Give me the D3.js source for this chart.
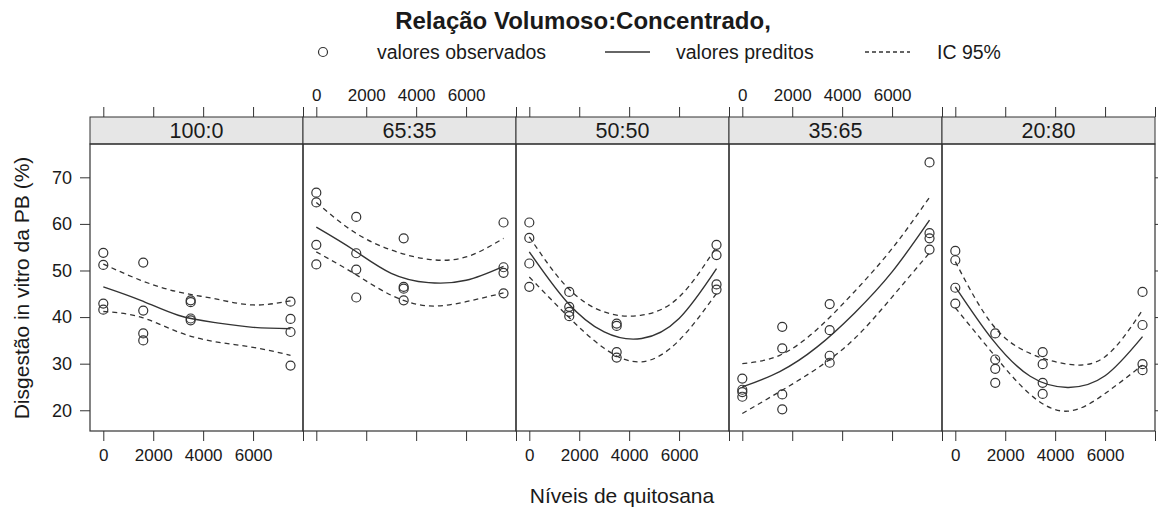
<!DOCTYPE html>
<html><head><meta charset="utf-8">
<script src="https://cdnjs.cloudflare.com/ajax/libs/d3/7.8.5/d3.min.js"></script>
<style>
html,body{margin:0;padding:0;background:#fff;}
svg text{font-family:"Liberation Sans",Arial,sans-serif;fill:#1a1a1a;}
</style></head>
<body><svg id="c" width="1158" height="509"></svg>
<script>
// ---- data ----
const panelNames = ["100:0", "65:35", "50:50", "35:65", "20:80"];
const obsX = [0, 1600, 3500, 7500];
const fitX = [0, 1500, 3000, 4500, 6000, 7500];
const xTicks = [0, 2000, 4000, 6000, 8000];
const xTickLabels = ["0", "2000", "4000", "6000", ""];
const yTicks = [20, 30, 40, 50, 60, 70];

// observed values: one row per level of obsX (4 replicates)
const obs100_0 = [[53.8, 51.2, 42.9, 41.6], [51.7, 41.4, 36.5, 35.0], [43.6, 43.2, 39.7, 39.3], [43.3, 39.6, 36.8, 29.6]];
const obs65_35 = [[66.7, 64.6, 55.5, 51.3], [61.5, 53.7, 50.2, 44.2], [56.9, 46.5, 46.1, 43.6], [60.3, 50.7, 49.5, 45.1]];
const obs50_50 = [[60.3, 57.0, 51.5, 46.5], [45.4, 42.2, 41.1, 40.2], [38.6, 38.1, 32.5, 31.3], [55.5, 53.3, 47.0, 45.9]];
const obs35_65 = [[26.8, 24.4, 23.9, 22.9], [37.9, 33.3, 23.4, 20.2], [42.8, 37.2, 31.7, 30.2], [73.2, 58.0, 56.9, 54.5]];
const obs20_80 = [[54.2, 52.2, 46.3, 42.9], [36.5, 30.9, 28.9, 25.9], [32.5, 29.9, 25.9, 23.5], [45.4, 38.3, 29.9, 28.6]];

// predicted values and 95% CI read at fitX
const fit100_0 = [46.5, 43.6, 40.4, 38.8, 37.8, 37.5];
const up100_0  = [51.4, 47.9, 45.4, 43.9, 42.6, 43.5];
const lo100_0  = [41.2, 40.0, 36.8, 34.7, 33.5, 31.8];

const fit65_35 = [59.3, 54.4, 49.4, 47.4, 47.9, 50.9];
const up65_35  = [64.6, 58.3, 54.4, 52.4, 52.9, 56.9];
const lo65_35  = [54.0, 49.4, 44.7, 42.4, 43.3, 45.2];

const fit50_50 = [54.0, 43.3, 36.8, 35.4, 39.7, 50.4];
const up50_50  = [57.2, 46.5, 41.1, 40.4, 44.3, 55.1];
const lo50_50  = [48.6, 40.4, 33.3, 30.4, 35.0, 45.1];

const fit35_65 = [25.0, 28.3, 33.6, 40.9, 49.7, 60.8];
const up35_65  = [30.0, 31.8, 37.4, 45.5, 54.7, 65.7];
const lo35_65  = [19.3, 24.0, 29.0, 35.4, 44.3, 53.8];

const fit20_80 = [46.5, 35.1, 27.3, 24.9, 27.4, 35.8];
const up20_80  = [51.9, 38.3, 32.2, 29.9, 31.5, 41.5];
const lo20_80  = [42.0, 32.2, 23.4, 19.8, 23.6, 29.7];

const obsList = [obs100_0, obs65_35, obs50_50, obs35_65, obs20_80];
const fitList = [fit100_0, fit65_35, fit50_50, fit35_65, fit20_80];
const upList  = [up100_0, up65_35, up50_50, up35_65, up20_80];
const loList  = [lo100_0, lo65_35, lo50_50, lo35_65, lo20_80];

// ---- layout ----
const svg = d3.select("#c");
const left = 90, right = 1155, stripTop = 117, plotTop = 144, plotBottom = 431;
const pw = (right - left) / panelNames.length;
const ink = "#333";
const y = d3.scaleLinear().domain([15.55, 77.15]).range([plotBottom, plotTop]);

// title
svg.append("text").attr("x", 583).attr("y", 29).attr("text-anchor", "middle")
  .style("font-size", "24px").style("font-weight", "bold").text("Relação Volumoso:Concentrado,");

// legend
const lg = svg.append("g");
lg.append("circle").attr("cx", 323).attr("cy", 52).attr("r", 4.5).attr("fill", "none").attr("stroke", ink).attr("stroke-width", 1.2);
lg.append("text").attr("x", 377).attr("y", 59).style("font-size", "19.5px").text("valores observados");
lg.append("line").attr("x1", 605).attr("x2", 650).attr("y1", 52).attr("y2", 52).attr("stroke", ink).attr("stroke-width", 1.3);
lg.append("text").attr("x", 676).attr("y", 59).style("font-size", "19.5px").text("valores preditos");
lg.append("line").attr("x1", 865).attr("x2", 910).attr("y1", 52).attr("y2", 52).attr("stroke", ink).attr("stroke-width", 1.3).attr("stroke-dasharray", "4,3");
lg.append("text").attr("x", 937).attr("y", 59).style("font-size", "19.5px").text("IC 95%");

const lineGen = (x) => d3.line().x((d, i) => x(fitX[i])).y(d => y(d)).curve(d3.curveNatural);

panelNames.forEach((name, p) => {
  const x0 = left + p * pw, x1 = x0 + pw;
  const x = d3.scaleLinear().domain([-533.3, 8000]).range([x0, x1]);
  const g = svg.append("g");

  // strip
  g.append("rect").attr("x", x0).attr("y", stripTop).attr("width", pw).attr("height", plotTop - stripTop)
    .attr("fill", "#e6e6e6").attr("stroke", ink).attr("stroke-width", 1);
  g.append("text").attr("x", (x0 + x1) / 2).attr("y", stripTop + 21).attr("text-anchor", "middle")
    .style("font-size", "21.5px").text(name);

  // top axis ticks
  const topAx = d3.axisTop(x).tickValues(xTicks).tickSize(10).tickFormat((d, i) => (p % 2 === 1 ? xTickLabels[i] : ""));
  const ta = g.append("g").attr("transform", `translate(0,${stripTop})`).call(topAx);
  ta.select(".domain").remove();
  ta.selectAll("line").attr("stroke", ink);
  ta.selectAll("text").style("font-size", "17px").attr("font-family", null).attr("y", -16);

  // bottom axis
  const botAx = d3.axisBottom(x).tickValues(xTicks).tickSize(10).tickFormat((d, i) => (p % 2 === 0 ? xTickLabels[i] : ""));
  const ba = g.append("g").attr("transform", `translate(0,${plotBottom})`).call(botAx);
  ba.select(".domain").remove();
  ba.selectAll("line").attr("stroke", ink);
  ba.selectAll("text").style("font-size", "17px").attr("font-family", null).attr("y", 18);

  // y axes
  if (p === 0) {
    const la = g.append("g").attr("transform", `translate(${x0},0)`).call(d3.axisLeft(y).tickValues(yTicks).tickSize(10).tickPadding(8));
    la.select(".domain").remove();
    la.selectAll("line").attr("stroke", ink);
    la.selectAll("text").style("font-size", "18px").attr("font-family", null);
  }
  if (p === panelNames.length - 1) {
    const ra = g.append("g").attr("transform", `translate(${x1},0)`).call(d3.axisRight(y).tickValues(yTicks).tickSize(10).tickFormat(""));
    ra.select(".domain").remove();
    ra.selectAll("line").attr("stroke", ink);
  }

  // panel box
  g.append("rect").attr("x", x0).attr("y", plotTop).attr("width", pw).attr("height", plotBottom - plotTop)
    .attr("fill", "none").attr("stroke", ink).attr("stroke-width", 1.2);

  // fitted curves
  const lg2 = lineGen(x);
  g.append("path").attr("d", lg2(upList[p])).attr("fill", "none").attr("stroke", ink).attr("stroke-width", 1.3).attr("stroke-dasharray", "5,4");
  g.append("path").attr("d", lg2(loList[p])).attr("fill", "none").attr("stroke", ink).attr("stroke-width", 1.3).attr("stroke-dasharray", "5,4");
  g.append("path").attr("d", lg2(fitList[p])).attr("fill", "none").attr("stroke", ink).attr("stroke-width", 1.4);

  // observed points
  const pts = [];
  obsList[p].forEach((row, i) => row.forEach(v => pts.push([obsX[i], v])));
  g.selectAll("circle.obs").data(pts).enter().append("circle").attr("class", "obs")
    .attr("cx", d => x(d[0])).attr("cy", d => y(d[1])).attr("r", 4.5)
    .attr("fill", "none").attr("stroke", ink).attr("stroke-width", 1.2);
});

// axis titles
svg.append("text").attr("x", 622).attr("y", 503).attr("text-anchor", "middle").style("font-size", "21px").text("Níveis de quitosana");
svg.append("text").attr("transform", "translate(29,288) rotate(-90)").attr("text-anchor", "middle").style("font-size", "21px")
  .text("Disgestão in vitro da PB (%)");
</script></body></html>
